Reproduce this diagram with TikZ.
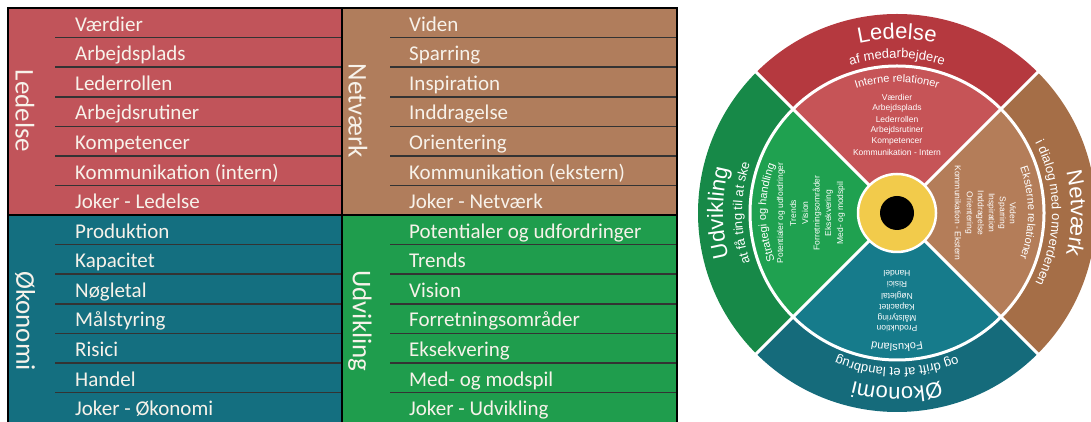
\documentclass[tikz,border=0pt]{standalone}
\usepackage{fontspec}
\setmainfont{Carlito}
\newfontfamily\wheelfont{Liberation Sans}
\usepackage{tikz}
\usetikzlibrary{decorations.text}
\usepackage{xcolor}
\definecolor{gridred}{HTML}{C1545A}
\definecolor{gridbrown}{HTML}{B07D5C}
\definecolor{gridteal}{HTML}{146F80}
\definecolor{gridgreen}{HTML}{1F9D4D}
\definecolor{rowtext}{HTML}{F7F2EA}
\definecolor{ledouter}{HTML}{B5393F}
\definecolor{ledinner}{HTML}{C65457}
\definecolor{netouter}{HTML}{A56E47}
\definecolor{netinner}{HTML}{B47D59}
\definecolor{okoouter}{HTML}{156B7B}
\definecolor{okoinner}{HTML}{167B8B}
\definecolor{udvouter}{HTML}{178948}
\definecolor{udvinner}{HTML}{1FA150}
\definecolor{hubyellow}{HTML}{F2CB4B}
\tikzset{%
	every row/.style={
		anchor=base west,
		inner sep=0pt,
		text=rowtext,
		font=\fontsize{21}{24}\selectfont
	},
	side title/.style={
		rotate=-90,
		inner sep=0pt,
		text=rowtext,
		font=\fontsize{27}{30}\selectfont
	},
	row line/.style={draw=black!80, line width=1.5pt},
	wheel item/.style={
		inner sep=0pt,
		text=white,
		font=\wheelfont\fontsize{8.5}{10}\selectfont
	},
	wheel gap/.style={draw=white, line width=3pt},
	arc text/.style={
		decorate,
		decoration={text along path, text align=center, text color=white, text={#1}}
	},
}

\begin{document}
\begin{tikzpicture}[x=1pt, y=1pt]
	\useasboundingbox (0,0) rectangle (1091,422);
	
	% Draw the four quadrants of the table
	\fill[gridred] (8,414) rectangle (342,207);
	\fill[gridbrown] (342,414) rectangle (677,207);
	\fill[gridteal] (8,207) rectangle (342,-2);
	\fill[gridgreen] (342,207) rectangle (677,-2);
	
	% Draw the row lines
	\draw[row line] (55,384.4) -- (342,384.4);
	\draw[row line] (55,354.8) -- (342,354.8);
	\draw[row line] (55,325.2) -- (342,325.2);
	\draw[row line] (55,295.6) -- (342,295.6);
	\draw[row line] (55,266.0) -- (342,266.0);
	\draw[row line] (55,236.4) -- (342,236.4);
	\draw[row line] (390,384.4) -- (677,384.4);
	\draw[row line] (390,354.8) -- (677,354.8);
	\draw[row line] (390,325.2) -- (677,325.2);
	\draw[row line] (390,295.6) -- (677,295.6);
	\draw[row line] (390,266.0) -- (677,266.0);
	\draw[row line] (390,236.4) -- (677,236.4);
	\draw[row line] (55,177.4) -- (342,177.4);
	\draw[row line] (55,147.8) -- (342,147.8);
	\draw[row line] (55,118.2) -- (342,118.2);
	\draw[row line] (55,88.6) -- (342,88.6);
	\draw[row line] (55,59.0) -- (342,59.0);
	\draw[row line] (55,29.4) -- (342,29.4);
	\draw[row line] (390,177.4) -- (677,177.4);
	\draw[row line] (390,147.8) -- (677,147.8);
	\draw[row line] (390,118.2) -- (677,118.2);
	\draw[row line] (390,88.6) -- (677,88.6);
	\draw[row line] (390,59.0) -- (677,59.0);
	\draw[row line] (390,29.4) -- (677,29.4);
	
	% Draw the borders
	\draw[black, line width=1.5pt] (8,414) rectangle (677,-2);
	\draw[black, line width=2pt] (342,414) -- (342,-2);
	\draw[black, line width=2pt] (8,207) -- (677,207);
	
	% Side titles
	\node[side title] (tled) at (25,311) {Ledelse};
	\node[side title] (tnet) at (358,311) {Netværk};
	\node[side title] (toko) at (25,101) {Økonomi};
	\node[side title] (tudv) at (360,101) {Udvikling};
	
	% Ledelse rows
	\node[every row] (led1) at (75,390.9) {Værdier};
	\node[every row] (led2) at (75,361.3) {Arbejdsplads};
	\node[every row] (led3) at (75,331.7) {Lederrollen};
	\node[every row] (led4) at (75,302.1) {Arbejdsrutiner};
	\node[every row] (led5) at (75,272.5) {Kompetencer};
	\node[every row] (led6) at (75,242.9) {Kommunikation (intern)};
	\node[every row] (led7) at (75,213.3) {Joker - Ledelse};
	
	% Netvaerk rows
	\node[every row] (net1) at (409,390.9) {Viden};
	\node[every row] (net2) at (409,361.3) {Sparring};
	\node[every row] (net3) at (409,331.7) {Inspiration};
	\node[every row] (net4) at (409,302.1) {Inddragelse};
	\node[every row] (net5) at (409,272.5) {Orientering};
	\node[every row] (net6) at (409,242.9) {Kommunikation (ekstern)};
	\node[every row] (net7) at (409,213.3) {Joker - Netværk};
	
	% Okonomi rows
	\node[every row] (oko1) at (75,183.9) {Produktion};
	\node[every row] (oko2) at (75,154.3) {Kapacitet};
	\node[every row] (oko3) at (75,124.7) {Nøgletal};
	\node[every row] (oko4) at (75,95.1) {Målstyring};
	\node[every row] (oko5) at (75,65.5) {Risici};
	\node[every row] (oko6) at (75,35.9) {Handel};
	\node[every row] (oko7) at (75,6.3) {Joker - Økonomi};
	
	% Udvikling rows
	\node[every row] (udv1) at (409,183.9) {Potentialer og udfordringer};
	\node[every row] (udv2) at (409,154.3) {Trends};
	\node[every row] (udv3) at (409,124.7) {Vision};
	\node[every row] (udv4) at (409,95.1) {Forretningsområder};
	\node[every row] (udv5) at (409,65.5) {Eksekvering};
	\node[every row] (udv6) at (409,35.9) {Med- og modspil};
	\node[every row] (udv7) at (409,6.3) {Joker - Udvikling};
	
	% Draw the wheel
	\begin{scope}[shift={(897,209)}]
		% Outer ring
		\fill[ledouter] (45:147) arc[start angle=45, end angle=135, radius=147] -- (135:199) arc[start angle=135, end angle=45, radius=199] -- cycle;
		\fill[netouter] (-45:147) arc[start angle=-45, end angle=45, radius=147] -- (45:199) arc[start angle=45, end angle=-45, radius=199] -- cycle;
		\fill[okoouter] (225:147) arc[start angle=225, end angle=315, radius=147] -- (315:199) arc[start angle=315, end angle=225, radius=199] -- cycle;
		\fill[udvouter] (135:147) arc[start angle=135, end angle=225, radius=147] -- (225:199) arc[start angle=225, end angle=135, radius=199] -- cycle;
		
		% Inner sectors
		\fill[ledinner] (0,0) -- (45:147) arc[start angle=45, end angle=135, radius=147] -- cycle;
		\fill[netinner] (0,0) -- (-45:147) arc[start angle=-45, end angle=45, radius=147] -- cycle;
		\fill[okoinner] (0,0) -- (225:147) arc[start angle=225, end angle=315, radius=147] -- cycle;
		\fill[udvinner] (0,0) -- (135:147) arc[start angle=135, end angle=225, radius=147] -- cycle;
		
		% White gaps
		\draw[wheel gap] (0,0) circle[radius=147];
		\draw[wheel gap] (45:39) -- (45:200);
		\draw[wheel gap] (135:39) -- (135:200);
		\draw[wheel gap] (225:39) -- (225:200);
		\draw[wheel gap] (315:39) -- (315:200);
		
		% Hub
		\filldraw[fill=hubyellow, draw=white, line width=2.5pt] (0,0) circle[radius=39];
		\fill[black] (0,0) circle[radius=17];
		
		% Ledelse
		\path[arc text={|\wheelfont\fontsize{22}{24}\selectfont|Ledelse}] (150:174) arc[start angle=150, end angle=30, radius=174];
		\path[arc text={|\wheelfont\fontsize{13}{15}\selectfont|af medarbejdere}] (150:155) arc[start angle=150, end angle=30, radius=155];
		\path[arc text={|\wheelfont\fontsize{11}{13}\selectfont|Interne relationer}] (150:131) arc[start angle=150, end angle=30, radius=131];
		\node[wheel item] (wled1) at (90:116) {Værdier};
		\node[wheel item] (wled2) at (90:105) {Arbejdsplads};
		\node[wheel item] (wled3) at (90:94) {Lederrollen};
		\node[wheel item] (wled4) at (90:83) {Arbejdsrutiner};
		\node[wheel item] (wled5) at (90:72) {Kompetencer};
		\node[wheel item] (wled6) at (90:61) {Kommunikation - Intern};
		
		% Netvaerk
		\path[arc text={|\wheelfont\fontsize{22}{24}\selectfont|Netværk}] (60:174) arc[start angle=60, end angle=-60, radius=174];
		\path[arc text={|\wheelfont\fontsize{13}{15}\selectfont|i dialog med omverdenen}] (60:155) arc[start angle=60, end angle=-60, radius=155];
		\path[arc text={|\wheelfont\fontsize{11}{13}\selectfont|Eksterne relationer}] (60:131) arc[start angle=60, end angle=-60, radius=131];
		\node[wheel item, rotate=-90] (wnet1) at (0:116) {Viden};
		\node[wheel item, rotate=-90] (wnet2) at (0:105) {Sparring};
		\node[wheel item, rotate=-90] (wnet3) at (0:94) {Inspiration};
		\node[wheel item, rotate=-90] (wnet4) at (0:83) {Inddragelse};
		\node[wheel item, rotate=-90] (wnet5) at (0:72) {Orientering};
		\node[wheel item, rotate=-90] (wnet6) at (0:61) {Kommunikation - Ekstern};
		
		% Okonomi
		\path[arc text={|\wheelfont\fontsize{22}{24}\selectfont|Økonomi}] (330:174) arc[start angle=330, end angle=210, radius=174];
		\path[arc text={|\wheelfont\fontsize{13}{15}\selectfont|og drift af et landbrug}] (330:155) arc[start angle=330, end angle=210, radius=155];
		\path[arc text={|\wheelfont\fontsize{11}{13}\selectfont|Fokusland}] (330:131) arc[start angle=330, end angle=210, radius=131];
		\node[wheel item, rotate=180] (woko1) at (270:116) {Produktion};
		\node[wheel item, rotate=180] (woko2) at (270:105) {Målstyring};
		\node[wheel item, rotate=180] (woko3) at (270:94) {Kapacitet};
		\node[wheel item, rotate=180] (woko4) at (270:83) {Nøgletal};
		\node[wheel item, rotate=180] (woko5) at (270:72) {Risici};
		\node[wheel item, rotate=180] (woko6) at (270:61) {Handel};
		
		% Udvikling
		\path[arc text={|\wheelfont\fontsize{22}{24}\selectfont|Udvikling}] (240:174) arc[start angle=240, end angle=120, radius=174];
		\path[arc text={|\wheelfont\fontsize{13}{15}\selectfont|at få ting til at ske}] (240:155) arc[start angle=240, end angle=120, radius=155];
		\path[arc text={|\wheelfont\fontsize{11}{13}\selectfont|Strategi og handling}] (240:131) arc[start angle=240, end angle=120, radius=131];
		\node[wheel item, rotate=90] (wudv1) at (180:116) {Potentialer og udfordringer};
		\node[wheel item, rotate=90] (wudv2) at (180:104) {Trends};
		\node[wheel item, rotate=90] (wudv3) at (180:92) {Vision};
		\node[wheel item, rotate=90] (wudv4) at (180:80) {Forretningsområder};
		\node[wheel item, rotate=90] (wudv5) at (180:68) {Eksekvering};
		\node[wheel item, rotate=90] (wudv6) at (180:56) {Med- og modspil};
	\end{scope}
	
\end{tikzpicture}
\end{document}
